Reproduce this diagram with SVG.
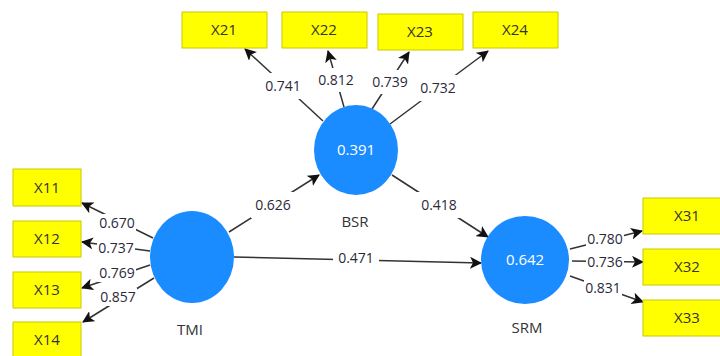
<svg xmlns="http://www.w3.org/2000/svg" width="720" height="356" viewBox="0 0 720 356">
<defs>
<marker id="ah" viewBox="0 0 12 12" refX="11" refY="6" markerWidth="12" markerHeight="12" markerUnits="userSpaceOnUse" orient="auto">
<path d="M0,0 L12,6 L0,12 L3,6 z" fill="#111"/>
</marker>
<style>
.box{fill:#ffff00;stroke:#c9c900;stroke-width:1}
.bt{font-family:"Open Sans","Noto Sans",sans-serif;font-size:15px;fill:#333;text-anchor:middle}
.lv{fill:#1a8cff}
.vt{font-family:"Open Sans","Noto Sans",sans-serif;font-size:15px;fill:#ffffff;text-anchor:middle}
.nm{font-family:"Open Sans","Noto Sans",sans-serif;font-size:15px;fill:#333;text-anchor:middle}
.ln{stroke:#333;stroke-width:1.5;fill:none;marker-end:url(#ah)}
.lb{font-family:"Open Sans","Noto Sans",sans-serif;font-size:14px;fill:#2a2a3a;text-anchor:middle}
.bg{fill:#ffffff}
</style>
</defs>
<rect width="720" height="356" fill="#ffffff"/>
<g id="connectors">
<line class="ln" x1="323" y1="121" x2="245" y2="49"/>
<line class="ln" x1="344" y1="107" x2="328" y2="51"/>
<line class="ln" x1="372" y1="109" x2="409" y2="52"/>
<line class="ln" x1="390" y1="124" x2="488" y2="51"/>
<line class="ln" x1="153" y1="238" x2="82" y2="203"/>
<line class="ln" x1="150" y1="251" x2="82" y2="242"/>
<line class="ln" x1="150" y1="265" x2="82" y2="288"/>
<line class="ln" x1="154" y1="278" x2="83" y2="322"/>
<line class="ln" x1="570" y1="249" x2="642" y2="231"/>
<line class="ln" x1="572" y1="261" x2="643" y2="262"/>
<line class="ln" x1="570" y1="276" x2="643" y2="302"/>
<line class="ln" x1="229" y1="232" x2="319" y2="175"/>
<line class="ln" x1="392" y1="175" x2="488" y2="237"/>
<line class="ln" x1="234" y1="257" x2="481" y2="263"/>
<rect class="bg" x="262" y="73" width="42" height="26"/><text class="lb" x="283" y="91">0.741</text>
<rect class="bg" x="316" y="68" width="40" height="24"/><text class="lb" x="336" y="85">0.812</text>
<rect class="bg" x="370" y="70" width="40" height="24"/><text class="lb" x="390" y="87">0.739</text>
<rect class="bg" x="417" y="75" width="42" height="26"/><text class="lb" x="438" y="93">0.732</text>
<rect class="bg" x="98" y="214" width="38" height="18"/><text class="lb" x="117" y="228">0.670</text>
<rect class="bg" x="97" y="239" width="38" height="18"/><text class="lb" x="116" y="253">0.737</text>
<rect class="bg" x="98" y="264" width="38" height="18"/><text class="lb" x="117" y="278">0.769</text>
<rect class="bg" x="99" y="288" width="38" height="18"/><text class="lb" x="118" y="302">0.857</text>
<rect class="bg" x="586" y="230" width="38" height="18"/><text class="lb" x="605" y="244">0.780</text>
<rect class="bg" x="586" y="253" width="38" height="18"/><text class="lb" x="605" y="267">0.736</text>
<rect class="bg" x="584" y="279" width="38" height="18"/><text class="lb" x="603" y="293">0.831</text>
<rect class="bg" x="251" y="192" width="44" height="26"/><text class="lb" x="273" y="210">0.626</text>
<rect class="bg" x="417" y="192" width="44" height="26"/><text class="lb" x="439" y="210">0.418</text>
<rect class="bg" x="333" y="248" width="46" height="20"/><text class="lb" x="356" y="263">0.471</text>
</g>
<g id="X21"><rect class="box" x="182" y="12" width="85" height="36"/><text class="bt" x="224" y="35">X21</text></g>
<g id="X22"><rect class="box" x="282" y="12" width="85" height="36"/><text class="bt" x="324" y="35">X22</text></g>
<g id="X23"><rect class="box" x="378" y="14" width="85" height="36"/><text class="bt" x="420" y="37">X23</text></g>
<g id="X24"><rect class="box" x="473" y="12" width="85" height="36"/><text class="bt" x="515" y="35">X24</text></g>
<g id="X11"><rect class="box" x="13" y="169" width="68" height="37"/><text class="bt" x="47" y="193">X11</text></g>
<g id="X12"><rect class="box" x="13" y="221" width="68" height="36"/><text class="bt" x="47" y="244">X12</text></g>
<g id="X13"><rect class="box" x="13" y="272" width="68" height="36"/><text class="bt" x="47" y="295">X13</text></g>
<g id="X14"><rect class="box" x="13" y="322" width="68" height="36"/><text class="bt" x="47" y="345">X14</text></g>
<g id="X31"><rect class="box" x="643" y="198" width="80" height="36"/><text class="bt" x="687" y="221">X31</text></g>
<g id="X32"><rect class="box" x="643" y="249" width="80" height="36"/><text class="bt" x="687" y="272">X32</text></g>
<g id="X33"><rect class="box" x="643" y="300" width="80" height="36"/><text class="bt" x="687" y="323">X33</text></g>
<g id="BSR"><ellipse class="lv" cx="356" cy="150" rx="42" ry="45"/><text class="vt" x="356" y="155">0.391</text><text class="nm" x="355" y="227">BSR</text></g>
<g id="TMI"><ellipse class="lv" cx="192" cy="257" rx="42" ry="46"/><text class="nm" x="190" y="335">TMI</text></g>
<g id="SRM"><ellipse class="lv" cx="525" cy="260" rx="44" ry="44"/><text class="vt" x="525" y="265">0.642</text><text class="nm" x="527" y="333">SRM</text></g>
</svg>
